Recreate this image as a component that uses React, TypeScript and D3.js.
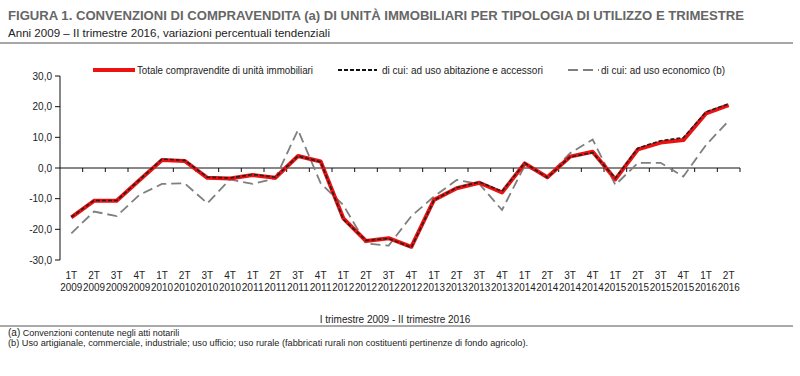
import React from "react";
import * as d3 from "d3";

const quarters = ["1T","2T","3T","4T","1T","2T","3T","4T","1T","2T","3T","4T","1T","2T","3T","4T","1T","2T","3T","4T","1T","2T","3T","4T","1T","2T","3T","4T","1T","2T"];
const years = ["2009","2009","2009","2009","2010","2010","2010","2010","2011","2011","2011","2011","2012","2012","2012","2012","2013","2013","2013","2013","2014","2014","2014","2014","2015","2015","2015","2015","2016","2016"];
const totale = [-16.1,-10.7,-10.7,-4.0,2.6,2.3,-3.2,-3.4,-2.3,-3.2,3.9,2.1,-16.4,-23.8,-22.9,-25.7,-10.4,-6.6,-4.8,-8.0,1.5,-3.0,3.7,5.3,-3.7,6.1,8.3,9.1,17.8,20.5];
const abitazione = [-16.0,-10.6,-10.6,-3.9,2.9,2.5,-3.0,-3.3,-2.1,-3.0,3.9,2.0,-16.8,-23.6,-23.0,-25.9,-10.5,-6.4,-4.6,-7.6,1.6,-3.1,3.6,5.0,-3.3,6.5,8.9,9.9,18.3,20.9];
const economico = [-21.3,-14.2,-15.7,-8.8,-5.2,-5.0,-11.5,-3.7,-5.2,-3.4,12.4,-5.0,-12.1,-24.6,-25.3,-15.7,-9.3,-3.9,-5.2,-13.7,0.7,-2.8,4.8,9.3,-5.5,1.7,1.7,-2.8,7.5,15.4];
const yTicks = [30,20,10,0,-10,-20,-30];
const legendLabels = ["Totale compravendite di unità immobiliari","di cui: ad uso abitazione e accessori","di cui: ad uso economico (b)"];

const font = "'Liberation Sans', Arial, sans-serif";

export default function App() {
  const W = 800, H = 376;
  const idx = quarters.map((_, i) => String(i));
  const x = d3.scaleBand().domain(idx).range([60, 740]);
  const y = d3.scaleLinear().domain([-30, 30]).range([260, 76]);
  const cx = (i: number) => (x(String(i)) as number) + x.bandwidth() / 2;
  const line = d3.line<number>().x((_, i) => cx(i)).y(d => y(d));
  const fmt = (v: number) => v.toFixed(1).replace(".", ",");

  return (
    <svg width={W} height={H} style={{ position: "absolute", left: 0, top: 0, background: "#fff" }} fontFamily={font}>
      <text x={8} y={20} fontSize={12.5} fontWeight="bold" fill="#666" textLength={736} lengthAdjust="spacingAndGlyphs">FIGURA 1. CONVENZIONI DI COMPRAVENDITA (a) DI UNITÀ IMMOBILIARI PER TIPOLOGIA DI UTILIZZO E TRIMESTRE</text>
      <text x={8} y={37} fontSize={11.5} fill="#222" textLength={322} lengthAdjust="spacingAndGlyphs">Anni 2009 – II trimestre 2016, variazioni percentuali tendenziali</text>
      <line x1={0} x2={793} y1={43} y2={43} stroke="#888" strokeWidth={1.5} />

      {/* legend */}
      <line x1={93} x2={135} y1={70} y2={70} stroke="#ee1111" strokeWidth={4} />
      <text x={137} y={73.5} fontSize={10} fill="#222" textLength={176} lengthAdjust="spacingAndGlyphs">{legendLabels[0]}</text>
      <line x1={338} x2={377} y1={70} y2={70} stroke="#111" strokeWidth={1.8} strokeDasharray="4,2" />
      <text x={382} y={73.5} fontSize={10} fill="#222" textLength={161} lengthAdjust="spacingAndGlyphs">{legendLabels[1]}</text>
      <line x1={568} x2={599} y1={70} y2={70} stroke="#7f7f7f" strokeWidth={1.8} strokeDasharray="10,5" />
      <text x={601} y={73.5} fontSize={10} fill="#222" textLength={124} lengthAdjust="spacingAndGlyphs">{legendLabels[2]}</text>

      {/* y axis */}
      <line x1={60} x2={60} y1={76} y2={260} stroke="#111" strokeWidth={1} />
      {yTicks.map(t => (
        <g key={t}>
          <line x1={55} x2={60} y1={y(t)} y2={y(t)} stroke="#111" />
          <text x={52} y={y(t) + 3.5} fontSize={10} textAnchor="end" fill="#222">{fmt(t)}</text>
        </g>
      ))}

      {/* zero axis */}
      <line x1={60} x2={740} y1={y(0)} y2={y(0)} stroke="#111" strokeWidth={1} />
      {idx.map((d) => (
        <line key={d} x1={(x(d) as number) + x.bandwidth()} x2={(x(d) as number) + x.bandwidth()} y1={y(0)} y2={y(0) + 4} stroke="#111" />
      ))}

      {/* x labels */}
      {idx.map((d, i) => (
        <g key={"l" + d}>
          <text x={cx(i)} y={279} fontSize={10} textAnchor="middle" fill="#222">{quarters[i]}</text>
          <text x={cx(i)} y={291} fontSize={10} textAnchor="middle" fill="#222" textLength={22} lengthAdjust="spacingAndGlyphs">{years[i]}</text>
        </g>
      ))}
      <text x={395} y={323} fontSize={10} textAnchor="middle" fill="#222">I trimestre 2009 - II trimestre 2016</text>

      {/* series */}
      <path d={line(economico) || ""} fill="none" stroke="#7f7f7f" strokeWidth={1.8} strokeDasharray="10,5" />
      <path d={line(totale) || ""} fill="none" stroke="#ee1111" strokeWidth={4} strokeLinejoin="round" />
      <path d={line(abitazione) || ""} fill="none" stroke="#222" strokeWidth={1.6} strokeDasharray="4,2" />

      {/* footnotes */}
      <line x1={0} x2={793} y1={326} y2={326} stroke="#555" strokeWidth={1} />
      <text x={8} y={336} fontSize={9} fill="#222"><tspan fontSize={10}>(a)</tspan> Convenzioni contenute negli atti notarili</text>
      <text x={8} y={346} fontSize={9} fill="#222" textLength={520} lengthAdjust="spacingAndGlyphs">(b) Uso artigianale, commerciale, industriale; uso ufficio; uso rurale (fabbricati rurali non costituenti pertinenze di fondo agricolo).</text>
    </svg>
  );
}
